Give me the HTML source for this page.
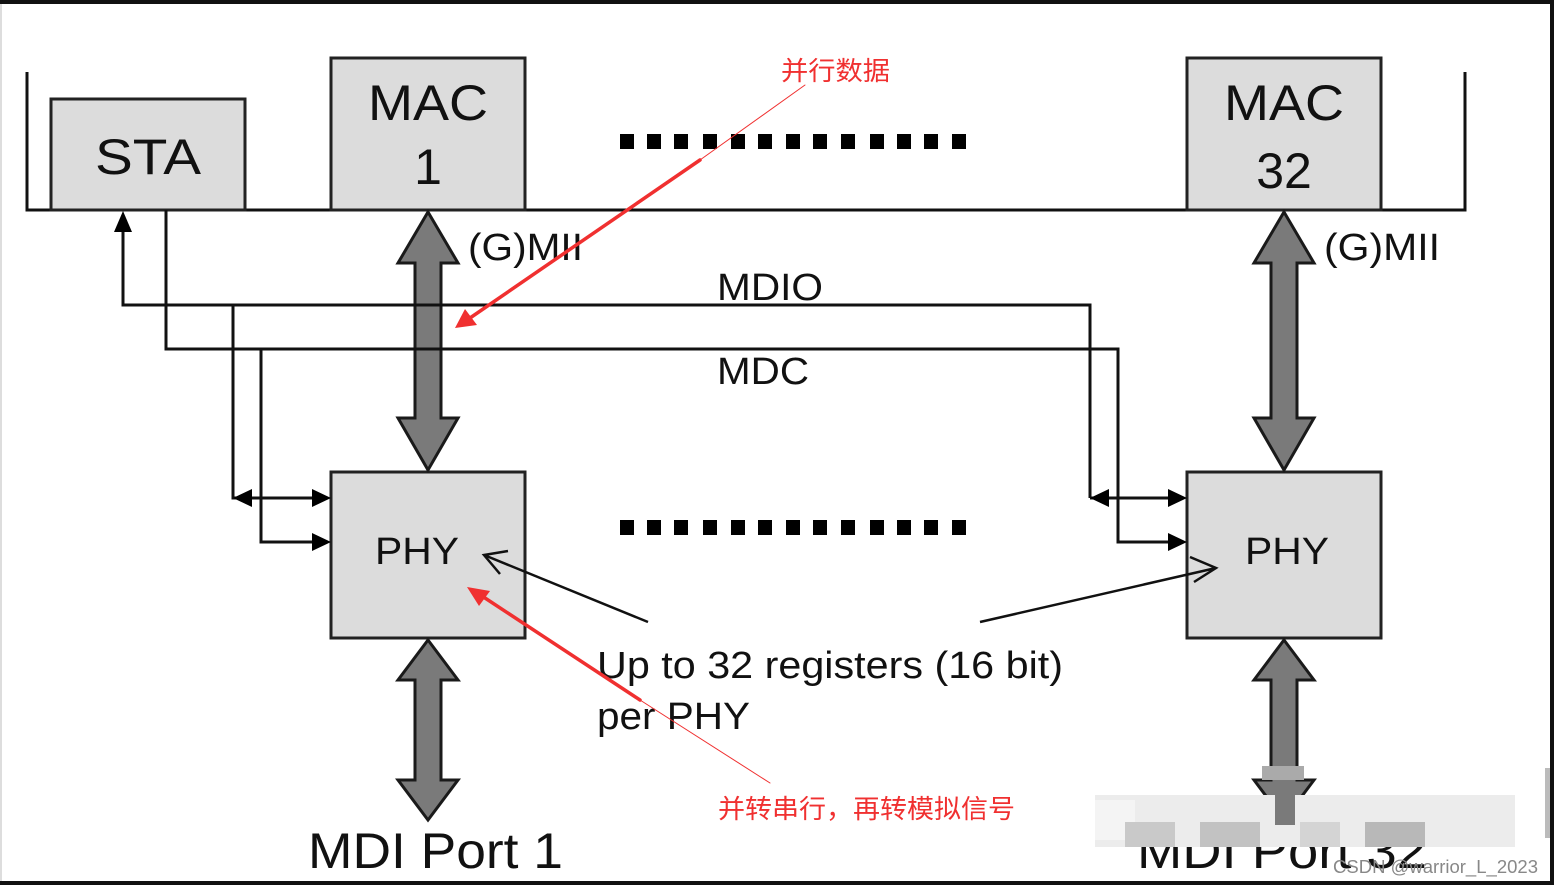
<!DOCTYPE html>
<html><head><meta charset="utf-8"><style>
html,body{margin:0;padding:0;background:#fff;}
svg{display:block;}
text{font-family:"Liberation Sans","Noto Sans CJK SC",sans-serif;}
</style></head><body>
<svg width="1554" height="885" viewBox="0 0 1554 885" xmlns="http://www.w3.org/2000/svg">
<rect x="0" y="0" width="1554" height="885" fill="#fff"/>
<rect x="0" y="0" width="1554" height="4" fill="#111"/>
<rect x="0" y="881" width="1554" height="4" fill="#111"/>
<rect x="1550" y="0" width="4" height="885" fill="#111"/>
<rect x="0" y="4" width="2" height="877" fill="#ddd"/>

<path d="M27 72 V210 H1465 V72" fill="none" stroke="#111" stroke-width="3"/>

<g fill="#dcdcdc" stroke="#222" stroke-width="3">
<rect x="51" y="99" width="194" height="111"/>
<rect x="331" y="58" width="194" height="152"/>
<rect x="1187" y="58" width="194" height="152"/>
<rect x="331" y="472" width="194" height="166"/>
<rect x="1187" y="472" width="194" height="166"/>
</g>
<g fill="#111" font-size="50" text-anchor="middle">
<text x="148" y="174" textLength="106" lengthAdjust="spacingAndGlyphs">STA</text>
<text x="428" y="120" textLength="120" lengthAdjust="spacingAndGlyphs">MAC</text>
<text x="428" y="184">1</text>
<text x="1284" y="120" textLength="120" lengthAdjust="spacingAndGlyphs">MAC</text>
<text x="1284" y="188">32</text>
</g>
<g fill="#111" font-size="38">
<text x="375" y="564" textLength="84" lengthAdjust="spacingAndGlyphs">PHY</text>
<text x="1245" y="564" textLength="84" lengthAdjust="spacingAndGlyphs">PHY</text>
</g>

<g fill="#000">
<rect x="620" y="134" width="14" height="15"/><rect x="647" y="134" width="14" height="15"/><rect x="674" y="134" width="14" height="15"/><rect x="703" y="134" width="14" height="15"/><rect x="731" y="134" width="14" height="15"/><rect x="758" y="134" width="14" height="15"/><rect x="786" y="134" width="14" height="15"/><rect x="813" y="134" width="14" height="15"/><rect x="841" y="134" width="14" height="15"/><rect x="870" y="134" width="14" height="15"/><rect x="897" y="134" width="14" height="15"/><rect x="924" y="134" width="14" height="15"/><rect x="952" y="134" width="14" height="15"/>
<rect x="620" y="520" width="14" height="15"/><rect x="647" y="520" width="14" height="15"/><rect x="674" y="520" width="14" height="15"/><rect x="703" y="520" width="14" height="15"/><rect x="731" y="520" width="14" height="15"/><rect x="758" y="520" width="14" height="15"/><rect x="786" y="520" width="14" height="15"/><rect x="813" y="520" width="14" height="15"/><rect x="841" y="520" width="14" height="15"/><rect x="870" y="520" width="14" height="15"/><rect x="897" y="520" width="14" height="15"/><rect x="924" y="520" width="14" height="15"/><rect x="952" y="520" width="14" height="15"/>
</g>

<g fill="#7a7a7a" stroke="#1a1a1a" stroke-width="3" stroke-linejoin="miter">
<path d="M428 212 L458 263 L441 263 L441 418 L458 418 L428 470 L398 418 L415 418 L415 263 L398 263 Z"/>
<path d="M1284 212 L1314 263 L1297 263 L1297 418 L1314 418 L1284 470 L1254 418 L1271 418 L1271 263 L1254 263 Z"/>
<path d="M428 640 L458 680 L441 680 L441 780 L458 780 L428 820 L398 780 L415 780 L415 680 L398 680 Z"/>
<path d="M1284 640 L1314 680 L1297 680 L1297 780 L1314 780 L1284 820 L1254 780 L1271 780 L1271 680 L1254 680 Z"/>
</g>

<g fill="none" stroke="#111" stroke-width="3">
<path d="M123 230 V305 H1090 V498"/>
<path d="M166 210 V349 H1118 V542 H1170"/>
<path d="M233 305 V498 H314"/>
<path d="M261 349 V542 H314"/>
<path d="M1090 498 H1170"/>
</g>
<g fill="#000">
<path d="M123 211 L114 232 L132 232 Z"/>
<path d="M233 498 L252 489 L252 507 Z"/>
<path d="M331 498 L312 489 L312 507 Z"/>
<path d="M331 542 L312 533 L312 551 Z"/>
<path d="M1090 498 L1109 489 L1109 507 Z"/>
<path d="M1187 498 L1168 489 L1168 507 Z"/>
<path d="M1187 542 L1168 533 L1168 551 Z"/>
</g>

<g fill="#111" font-size="38">
<text x="468" y="260" textLength="115" lengthAdjust="spacingAndGlyphs">(G)MII</text>
<text x="1324" y="260" textLength="116" lengthAdjust="spacingAndGlyphs">(G)MII</text>
<text x="717" y="300" textLength="106" lengthAdjust="spacingAndGlyphs">MDIO</text>
<text x="717" y="384" textLength="92" lengthAdjust="spacingAndGlyphs">MDC</text>
<text x="597" y="678" textLength="466" lengthAdjust="spacingAndGlyphs">Up to 32 registers (16 bit)</text>
<text x="597" y="729" textLength="153" lengthAdjust="spacingAndGlyphs">per PHY</text>
</g>
<text x="308" y="868" font-size="50" fill="#111" textLength="255" lengthAdjust="spacingAndGlyphs">MDI Port 1</text>

<g fill="none" stroke="#111" stroke-width="2.5">
<path d="M648 622 L484 555"/>
<path d="M508 551 L484 555 L500 574"/>
<path d="M980 622 L1216 568"/>
<path d="M1190 557 L1216 568 L1194 582"/>
</g>

<text x="1137" y="868" font-size="50" fill="#111" textLength="290" lengthAdjust="spacingAndGlyphs">MDI Port 32</text>
<g>
<rect x="1095" y="795" width="420" height="52" fill="#ececec"/>
<rect x="1095" y="800" width="40" height="40" fill="#f4f4f4"/>
<rect x="1125" y="822" width="50" height="25" fill="#c9c9c9"/>
<rect x="1200" y="822" width="60" height="25" fill="#c2c2c2"/>
<rect x="1300" y="822" width="40" height="25" fill="#d4d4d4"/>
<rect x="1262" y="766" width="42" height="14" fill="#aaa"/>
<rect x="1275" y="795" width="20" height="30" fill="#7a7a7a"/>
<rect x="1365" y="822" width="60" height="25" fill="#b8b8b8"/>
<rect x="1545" y="768" width="5" height="70" fill="#bbb"/>
</g>
<text x="1333" y="873" font-size="18" fill="#888" textLength="205" lengthAdjust="spacingAndGlyphs">CSDN @warrior_L_2023</text>

<g stroke="#f03030" fill="none" stroke-linecap="round">
<path d="M805 85 L700 160" stroke-width="1"/>
<path d="M700 160 L470 318" stroke-width="3.5"/>
<path d="M770 783 L640 700" stroke-width="1"/>
<path d="M640 700 L485 598" stroke-width="3.5"/>
</g>
<g fill="#f03030">
<path d="M455 328 L465 309 L477 325 Z"/>
<path d="M467 587 L490 591 L479 606 Z"/>
</g>
<g fill="#f03030" font-size="26">
<text x="781" y="80" textLength="109" lengthAdjust="spacingAndGlyphs">并行数据</text>
<text x="718" y="818" textLength="297" lengthAdjust="spacingAndGlyphs">并转串行，再转模拟信号</text>
</g>
</svg>
</body></html>
